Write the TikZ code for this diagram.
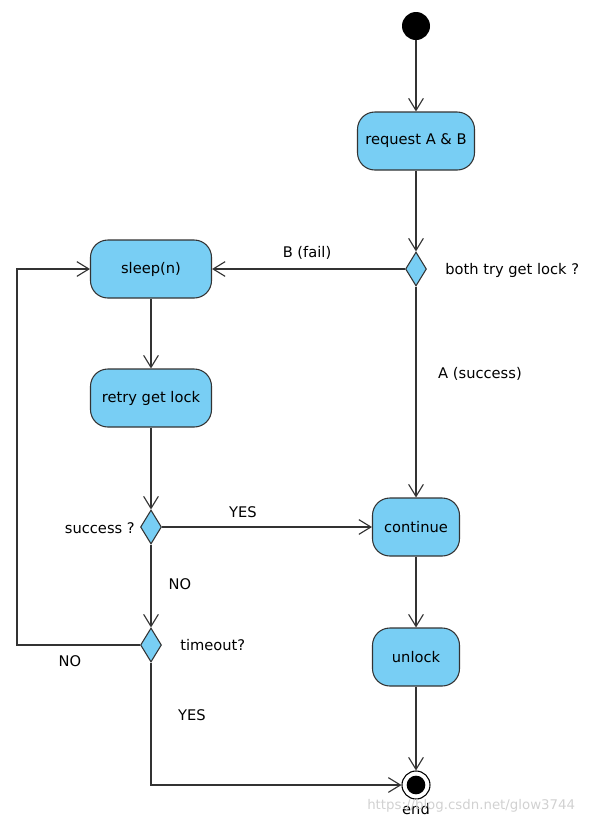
\documentclass[tikz,border=0pt]{standalone}
\usepackage{fontspec}
\setmainfont{DejaVu Sans}
\usetikzlibrary{shapes.geometric,arrows.meta}
\definecolor{boxfill}{HTML}{78CEF4}
\definecolor{linec}{HTML}{333333}
\tikzset{
  act/.style={draw=linec, line width=0.8pt, fill=boxfill, rounded corners=13pt, minimum height=43.5pt, inner sep=2pt, font=\fontsize{11}{13}\selectfont},
  dec/.style={draw=linec, line width=0.8pt, fill=boxfill, diamond, inner sep=0pt, minimum width=15.75pt, minimum height=25.5pt},
  lbl/.style={font=\fontsize{11}{13}\selectfont, inner sep=0pt},
  flow/.style={draw=linec, line width=0.85pt, -{Straight Barb[length=9pt,width=11pt,line width=0.85pt]}}
}
\begin{document}
\begin{tikzpicture}[x=0.75pt,y=-0.75pt]
\useasboundingbox (0,0) rectangle (591,826);
% nodes
\node[circle, fill=black, minimum size=21pt, inner sep=0pt] (start) at (416,26) {};
\node[act, minimum width=87.75pt] (req) at (416,141) {request A \& B};
\node[dec] (d1) at (416,269) {};
\node[act, minimum width=90.75pt] (sleep) at (151,269) {sleep(n)};
\node[act, minimum width=90.75pt] (retry) at (151,398) {retry get lock};
\node[dec] (d2) at (151,527) {};
\node[dec] (d3) at (151,645) {};
\node[act, minimum width=65.25pt] (cont) at (416,527) {continue};
\node[act, minimum width=65.25pt] (unl) at (416,657) {unlock};
\node[circle, draw=black, line width=0.8pt, fill=white, minimum size=21pt, inner sep=0pt] (end) at (416,785) {};
\node[circle, fill=black, minimum size=14pt, inner sep=0pt] (endin) at (416,785) {};
\coordinate (lp) at (17,645);
% labels
\node[lbl] (lb1) at (307,253) {B (fail)};
\node[lbl, anchor=west] (lb2) at (445,270) {both try get lock ?};
\node[lbl] (lb3) at (480,374) {A (success)};
\node[lbl] (lb4) at (243,512) {YES};
\node[lbl, anchor=east] (lb5) at (135,528) {success ?};
\node[lbl] (lb6) at (180,584) {NO};
\node[lbl, anchor=west] (lb7) at (180,645) {timeout?};
\node[lbl] (lb8) at (70,661) {NO};
\node[lbl] (lb9) at (192,715) {YES};
\node[lbl] (lb10) at (416,809) {end};
\node[font=\fontsize{10}{12}\selectfont, text=black!18, anchor=west, inner sep=0pt] (wm) at (367,806) {https://blog.csdn.net/glow3744};
% connectors
\draw[flow] (start) -- (req);
\draw[flow] (req) -- (d1);
\draw[flow] (d1) -- (sleep);
\draw[flow] (d1) -- (cont);
\draw[flow] (sleep) -- (retry);
\draw[flow] (retry) -- (d2);
\draw[flow] (d2) -- (cont);
\draw[flow] (d2) -- (d3);
\draw[flow] (d3.west) -- (lp) |- (sleep.west);
\draw[flow] (d3.south) |- (end.west);
\draw[flow] (cont) -- (unl);
\draw[flow] (unl) -- (end);
\end{tikzpicture}
\end{document}
